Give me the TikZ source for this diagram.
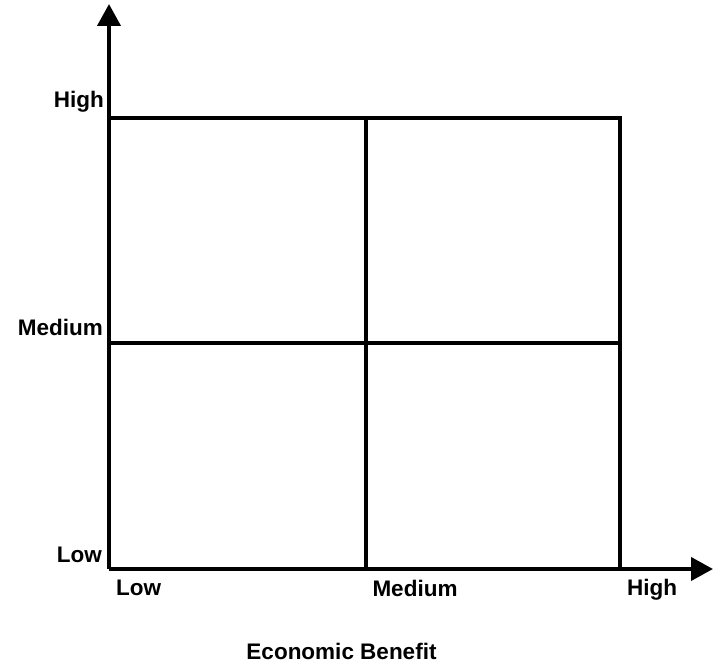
\documentclass[tikz,border=0pt]{standalone}
\usepackage{fontspec}
\setmainfont{Liberation Sans}
\usetikzlibrary{arrows.meta}
\begin{document}
\begin{tikzpicture}[x=1pt,y=-1pt,
  gridline/.style={line width=4pt, line cap=rect},
  axisline/.style={line width=4pt, -{Triangle[length=22pt,width=23pt]}},
  lbl/.style={inner sep=0pt, font=\fontsize{22.5}{27}\selectfont\bfseries}]
\useasboundingbox (0,0) rectangle (713,669);
% coordinates
\coordinate (O) at (109,569);
\coordinate (ytip) at (109,4);
\coordinate (xtip) at (713,569);
\coordinate (TL) at (109,118);
\coordinate (TR) at (620,118);
\coordinate (BR) at (620,569);
\coordinate (TM) at (365.5,118);
\coordinate (BM) at (365.5,569);
\coordinate (ML) at (109,343);
\coordinate (MR) at (620,343);
% grid
\draw[gridline] (TL) -- (TR) -- (BR);
\draw[gridline] (TM) -- (BM);
\draw[gridline] (ML) -- (MR);
% axes
\draw[axisline] (O) -- (ytip);
\draw[axisline] (O) -- (xtip);
% y labels
\node[lbl, anchor=base east] (yhigh) at (104,108) {High};
\node[lbl, anchor=base east] (ymed) at (103,335) {Medium};
\node[lbl, anchor=base east] (ylow) at (102,562) {Low};
% x labels
\node[lbl, anchor=base west] (xlow) at (116,595) {Low};
\node[lbl, anchor=base] (xmed) at (415,596) {Medium};
\node[lbl, anchor=base] (xhigh) at (652,595) {High};
% axis title
\node[lbl, anchor=base] (xtitle) at (341.5,659) {Economic Benefit};
\end{tikzpicture}
\end{document}
